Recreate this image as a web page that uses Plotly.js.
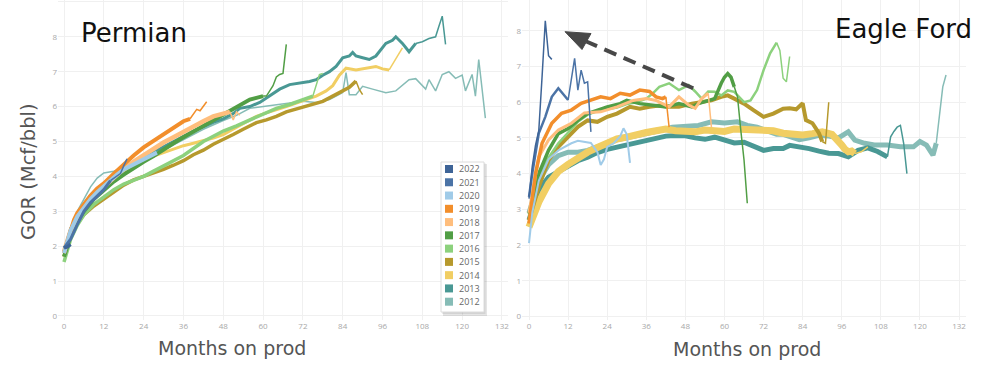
<!DOCTYPE html>
<html>
<head>
<meta charset="utf-8">
<script src="https://cdn.plot.ly/plotly-3.0.1.min.js"></script>
<style>html,body{margin:0;padding:0;background:#fff;}#chart{width:1000px;height:366px;}</style>
</head>
<body>
<div id="chart"></div>
<script>
// ---------- categories / labels ----------
const years = ['2022','2021','2020','2019','2018','2017','2016','2015','2014','2013','2012'];
const yearColors = ['#3E6497','#4B73A6','#A0CBE8','#F28E2B','#FFBE7D','#519E45','#8CD17D','#B6992D','#F1CE63','#499894','#86BCB6'];
const monthTicks = [0,12,24,36,48,60,72,84,96,108,120,132];
const panelTitles = ['Permian','Eagle Ford'];
const xTitle = 'Months on prod';
const yTitle = 'GOR (Mcf/bbl)';

// ---------- Permian: months on production / GOR ----------
const permX2022 = [0,1,2];
const permY2022 = [1.95,1.98,2.05];
const permX2021 = [0,2,4,6,8,10,12,14,16,17,18,19];
const permY2021 = [1.95,2.2,2.62,3.0,3.25,3.45,3.62,3.88,4.0,4.08,4.3,4.5];
const permX2020 = [0,2,4,6,8,10,12,14,16,18,20,22,24,26,28];
const permY2020 = [1.8,2.45,2.85,3.12,3.35,3.55,3.72,3.9,4.05,4.2,4.3,4.38,4.5,4.58,4.68];
const permX2019 = [0,1,2,3,4,6,8,10,12,15,18,21,24,27,30,33,36,38,39,40,41,42,43];
const permY2019 = [1.8,2.1,2.45,2.75,2.95,3.22,3.45,3.65,3.8,4.08,4.35,4.6,4.83,5.02,5.2,5.4,5.58,5.65,5.8,5.92,5.88,6.0,6.14];
const permX2018 = [0,2,4,6,9,12,15,18,21,24,27,30,33,36,39,42,45,48,50,51,52,53];
const permY2018 = [1.85,2.45,2.85,3.12,3.45,3.72,3.98,4.22,4.42,4.6,4.8,4.97,5.12,5.28,5.45,5.58,5.72,5.78,5.85,5.62,5.85,5.75];
const permX2017 = [0,2,4,6,9,12,15,18,21,24,27,30,33,36,39,42,45,48,51,54,56,58,60,61,62,63,64,65,66,67];
const permY2017 = [1.7,2.3,2.7,3.0,3.35,3.6,3.85,4.05,4.25,4.42,4.58,4.78,4.95,5.12,5.28,5.45,5.6,5.78,5.95,6.1,6.2,6.25,6.3,6.3,6.45,6.6,6.85,6.92,6.95,7.78];
const permX2016 = [0,2,4,6,9,12,15,18,21,24,27,30,33,36,39,42,45,48,52,56,60,64,68,72,75,76,77,78];
const permY2016 = [1.55,2.2,2.6,2.9,3.2,3.42,3.62,3.78,3.9,4.0,4.15,4.3,4.45,4.6,4.8,5.0,5.15,5.3,5.45,5.62,5.8,5.95,6.06,6.2,6.3,6.65,6.92,6.95];
const permX2015 = [0,2,4,6,9,12,15,18,21,24,27,30,33,36,39,42,45,48,51,54,58,61,64,67,71,74,78,81,84,86,88,89,90];
const permY2015 = [1.7,2.3,2.65,2.9,3.15,3.35,3.55,3.75,3.9,4.0,4.08,4.2,4.32,4.45,4.62,4.75,4.92,5.05,5.2,5.35,5.54,5.62,5.72,5.85,5.96,6.02,6.15,6.3,6.44,6.55,6.73,6.49,6.34];
const permX2014 = [0,3,6,9,12,15,18,21,24,27,30,33,36,39,42,45,48,51,54,58,61,64,67,70,73,76,79,81,83,85,88,91,94,96,98,100,101,102];
const permY2014 = [1.75,2.6,3.05,3.4,3.65,3.9,4.1,4.3,4.45,4.58,4.68,4.78,4.88,4.95,5.02,5.1,5.2,5.35,5.5,5.72,5.82,5.9,6.0,6.1,6.2,6.3,6.45,6.6,6.9,7.1,7.05,7.1,7.15,7.08,7.05,7.35,7.5,7.68];
const permX2013 = [0,2,4,6,8,10,12,14,16,18,21,24,27,30,33,36,39,42,45,48,51,53,56,59,62,65,68,71,74,76,78,80,82,84,86,87,88,90,92,94,95,97,99,100,102,104,106,108,110,112,113,114,115];
const permY2013 = [1.85,2.5,2.9,3.2,3.45,3.65,3.8,3.95,4.05,4.2,4.38,4.55,4.7,4.85,5.0,5.15,5.3,5.42,5.55,5.65,5.8,5.95,6.0,6.12,6.3,6.5,6.63,6.67,6.72,6.77,6.9,7.0,7.15,7.4,7.45,7.55,7.45,7.4,7.35,7.45,7.57,7.81,7.9,8.0,7.81,7.57,7.81,7.86,7.95,8.0,8.3,8.59,7.78];
const permX2012 = [0,2,4,6,8,10,12,15,18,21,24,30,36,42,48,52,56,60,64,68,72,76,80,82,84,85,86,88,90,93,97,100,102,104,106,109,110,112,114,116,118,120,121,123,124,125,127];
const permY2012 = [1.75,2.5,3.0,3.35,3.7,3.95,4.1,4.15,4.25,4.35,4.45,4.75,5.05,5.35,5.6,5.75,5.95,6.0,6.05,6.1,6.15,6.12,6.2,6.3,6.4,6.97,6.34,6.34,6.58,6.5,6.4,6.45,6.6,6.77,6.8,6.5,6.77,6.45,6.92,7.0,6.81,6.9,6.45,6.92,6.3,7.35,5.67];

// ---------- Eagle Ford: months on production / GOR ----------
const efX2022 = [0,1,2,3,4,5,6,7];
const efY2022 = [3.3,4.2,4.8,5.2,6.7,8.28,7.3,7.2];
const efX2021 = [0,1,3,5,7,9,12,14,15,16,17,18,19];
const efY2021 = [3.35,4.0,5.13,5.59,6.15,6.39,6.06,7.23,6.34,6.9,6.53,6.57,5.17];
const efX2020 = [0,1,3,6,9,11,13,15,17,19,21,22,23,24,26,28,29,30,31];
const efY2020 = [2.05,2.9,3.8,4.4,4.65,4.75,4.85,4.92,4.9,4.86,4.6,4.24,4.4,4.75,4.85,5.05,5.27,5.1,4.3];
const efX2019 = [0,2,4,7,10,13,16,19,22,25,28,31,34,37,39,41,42,43];
const efY2019 = [2.6,4.0,4.85,5.41,5.69,5.78,5.97,6.06,6.15,6.1,6.25,6.2,6.34,6.3,6.15,6.1,6.15,5.3];
const efX2018 = [0,3,6,9,13,17,22,27,32,36,39,41,43,46,49,51,53,55,56];
const efY2018 = [2.9,4.47,4.94,5.22,5.41,5.7,5.73,5.87,6.05,6.1,6.05,5.96,5.87,6.15,5.92,5.83,6.1,6.25,5.3];
const efX2017 = [0,3,6,9,12,15,18,21,24,28,30,34,38,42,46,50,52,55,57,59,60,61,62,63,64,65,66,67];
const efY2017 = [2.88,4.0,4.65,5.12,5.26,5.49,5.68,5.77,5.87,5.96,6.05,5.96,5.91,5.87,5.96,5.87,5.96,6.05,6.1,6.53,6.7,6.8,6.7,6.43,6.15,5.22,4.38,3.17];
const efX2016 = [0,2,4,6,9,12,15,18,21,24,27,30,33,36,38,40,43,46,49,51,53,55,57,59,61,63,66,68,70,72,74,76,77,78,79,80];
const efY2016 = [2.85,3.6,4.1,4.45,4.85,5.15,5.45,5.65,5.75,5.8,5.85,5.95,6.0,6.1,6.25,6.43,6.53,6.34,6.48,6.3,6.1,6.3,6.29,6.19,6.33,6.29,6.0,6.05,6.34,6.9,7.37,7.67,7.45,6.67,6.57,7.28];
const efX2015 = [0,3,6,9,12,15,18,21,24,27,31,34,37,40,43,46,50,53,56,59,61,63,66,69,72,75,78,80,82,84,85,87,89,90,91,92];
const efY2015 = [2.7,3.63,4.38,4.75,5.03,5.31,5.49,5.45,5.59,5.68,5.87,5.82,5.87,5.91,5.87,5.87,5.96,6.0,6.05,6.15,6.19,6.1,5.96,5.77,5.59,5.68,5.82,5.83,5.8,5.97,5.5,5.41,5.13,4.9,4.85,6.0];
const efX2014 = [0,3,6,9,12,15,18,21,24,27,30,33,36,39,42,45,48,51,54,57,60,63,66,69,72,75,78,81,84,87,90,93,95,96,97,98,99,100,102,104];
const efY2014 = [2.5,3.2,3.72,4.06,4.26,4.45,4.6,4.73,4.87,4.97,5.02,5.1,5.15,5.2,5.25,5.2,5.2,5.17,5.22,5.2,5.18,5.25,5.24,5.22,5.25,5.2,5.13,5.12,5.08,5.12,5.17,5.1,4.94,4.8,4.68,4.61,4.63,4.56,4.61,4.75];
const efX2013 = [0,3,6,9,12,15,18,21,24,27,30,33,36,39,42,45,48,51,54,57,60,63,66,69,72,75,78,80,83,86,89,92,95,98,101,104,107,109,110,111,112,113,114,115,116];
const efY2013 = [2.7,3.55,3.9,4.05,4.22,4.36,4.46,4.59,4.68,4.74,4.82,4.87,4.92,4.98,5.05,5.07,5.06,5.0,4.96,5.02,4.93,4.86,4.88,4.75,4.65,4.7,4.7,4.79,4.75,4.7,4.63,4.57,4.56,4.47,4.65,4.72,4.62,4.5,4.47,5.03,5.18,5.3,5.35,4.85,4.0];
const efX2012 = [0,3,6,9,12,15,18,21,24,27,30,33,36,40,44,48,52,56,60,64,67,70,73,76,78,80,83,86,89,92,95,98,100,103,106,110,114,118,120,122,124,125,126,127,128];
const efY2012 = [2.9,3.8,4.25,4.5,4.6,4.6,4.65,4.75,4.85,4.95,5.0,5.05,5.1,5.2,5.3,5.33,5.35,5.45,5.42,5.45,5.35,5.3,5.2,5.1,5.1,5.05,4.95,5.0,5.07,5.05,5.0,5.17,4.94,4.85,4.8,4.8,4.75,4.75,4.9,4.8,4.52,4.85,5.69,6.43,6.76];

// ---------- styles (line width, month where thin tail starts) ----------
const permStyle = {
  '2022':{w:3.5,tail:null}, '2021':{w:3,tail:14}, '2020':{w:4,tail:null}, '2019':{w:4,tail:38},
  '2018':{w:4.5,tail:50}, '2017':{w:4,tail:60}, '2016':{w:3.5,tail:75}, '2015':{w:3.5,tail:88},
  '2014':{w:3,tail:98}, '2013':{w:3,tail:106}, '2012':{w:1.5,tail:null}
};
const efStyle = {
  '2022':{w:1.5,tail:null}, '2021':{w:2.5,tail:12}, '2020':{w:2,tail:null}, '2019':{w:3.5,tail:42},
  '2018':{w:3,tail:55}, '2017':{w:3.5,tail:63}, '2016':{w:2.5,tail:76}, '2015':{w:4,tail:90},
  '2014':{w:7,tail:100}, '2013':{w:5,tail:110}, '2012':{w:5,tail:125}
};
const permData = {
  '2022':[permX2022,permY2022],'2021':[permX2021,permY2021],'2020':[permX2020,permY2020],
  '2019':[permX2019,permY2019],'2018':[permX2018,permY2018],'2017':[permX2017,permY2017],
  '2016':[permX2016,permY2016],'2015':[permX2015,permY2015],'2014':[permX2014,permY2014],
  '2013':[permX2013,permY2013],'2012':[permX2012,permY2012]
};
const efData = {
  '2022':[efX2022,efY2022],'2021':[efX2021,efY2021],'2020':[efX2020,efY2020],
  '2019':[efX2019,efY2019],'2018':[efX2018,efY2018],'2017':[efX2017,efY2017],
  '2016':[efX2016,efY2016],'2015':[efX2015,efY2015],'2014':[efX2014,efY2014],
  '2013':[efX2013,efY2013],'2012':[efX2012,efY2012]
};

const traces = [];
function addSeries(data, style, xa, ya) {
  // oldest first so the newest vintages sit on top
  for (let i = years.length - 1; i >= 0; i--) {
    const yr = years[i], col = yearColors[i];
    const [xs, ys] = data[yr];
    const st = style[yr];
    let mainX = xs, mainY = ys, tailX = [], tailY = [];
    if (st.tail !== null) {
      mainX = []; mainY = [];
      xs.forEach((x, k) => {
        if (x <= st.tail) { mainX.push(x); mainY.push(ys[k]); }
        if (x >= st.tail) { tailX.push(x); tailY.push(ys[k]); }
      });
    }
    if (tailX.length) traces.push({x:tailX, y:tailY, xaxis:xa, yaxis:ya, type:'scatter', mode:'lines',
      name:yr, showlegend:false, hoverinfo:'skip', line:{color:col, width:1.5, shape:'linear'}});
    traces.push({x:mainX, y:mainY, xaxis:xa, yaxis:ya, type:'scatter', mode:'lines',
      name:yr, showlegend:false, line:{color:col, width:st.w, shape:'linear'}});
  }
}
addSeries(permData, permStyle, 'x', 'y');
addSeries(efData, efStyle, 'x2', 'y2');

// pixel -> paper helpers (figure is 1000 x 366 with zero margins)
const W = 1000, H = 366;
const px = v => v / W;
const py = v => 1 - v / H;

const tickFont = {family:'Open Sans, sans-serif', size:8, color:'#a8a8a8'};
const grid = '#f0f0f0';
const axBase = {showgrid:true, gridcolor:grid, gridwidth:1, zeroline:false, showline:false, ticks:'', tickfont:tickFont, fixedrange:true};

const shapes = [];
const annotations = [];

// custom legend (square swatches) drawn from years / yearColors
shapes.push({type:'rect', xref:'paper', yref:'paper', x0:px(443), x1:px(487), y0:py(316), y1:py(164), fillcolor:'rgba(0,0,0,0.10)', line:{width:0}, layer:'above'});
shapes.push({type:'rect', xref:'paper', yref:'paper', x0:px(442), x1:px(485.5), y0:py(314), y1:py(163), fillcolor:'rgba(0,0,0,0.08)', line:{width:0}, layer:'above'});
shapes.push({type:'rect', xref:'paper', yref:'paper', x0:px(441), x1:px(484), y0:py(312), y1:py(162), fillcolor:'#ffffff', line:{color:'#dcdcdc', width:1}, layer:'above'});
years.forEach((yr, i) => {
  const yc = 169 + i * 13.27;
  shapes.push({type:'rect', xref:'paper', yref:'paper', x0:px(445), x1:px(453), y0:py(yc + 4), y1:py(yc - 4), fillcolor:yearColors[i], line:{width:0}, layer:'above'});
  annotations.push({xref:'paper', yref:'paper', x:px(456.5), y:py(yc), xanchor:'left', yanchor:'middle', text:yr, showarrow:false,
    font:{family:'Open Sans, sans-serif', size:9, color:'#666'}});
});

// dashed arrow in the Eagle Ford panel
shapes.push({type:'line', xref:'x2', yref:'y2', x0:50.4, y0:6.39, x1:17.6, y1:7.70, line:{color:'#484848', width:4, dash:'13px,8px'}});
shapes.push({type:'path', xref:'x2', yref:'y2', path:'M 11.05 7.975 L 19.03 7.924 L 16.27 7.476 Z', fillcolor:'#484848', line:{color:'#484848', width:1}});

// panel titles
annotations.push({xref:'paper', yref:'paper', x:px(134), y:py(33), xanchor:'center', yanchor:'middle', text:panelTitles[0], showarrow:false,
  font:{family:'DejaVu Sans, sans-serif', size:26, color:'#111'}});
annotations.push({xref:'paper', yref:'paper', x:px(903), y:py(29), xanchor:'center', yanchor:'middle', text:panelTitles[1], showarrow:false,
  font:{family:'DejaVu Sans, sans-serif', size:26, color:'#111'}});
// axis titles
annotations.push({xref:'paper', yref:'paper', x:px(28), y:py(172), xanchor:'center', yanchor:'middle', text:yTitle, textangle:-90, showarrow:false,
  font:{family:'DejaVu Sans, sans-serif', size:19.5, color:'#555'}});
annotations.push({xref:'paper', yref:'paper', x:px(232), y:py(348), xanchor:'center', yanchor:'middle', text:xTitle, showarrow:false,
  font:{family:'DejaVu Sans, sans-serif', size:19, color:'#555'}});
annotations.push({xref:'paper', yref:'paper', x:px(747), y:py(349), xanchor:'center', yanchor:'middle', text:xTitle, showarrow:false,
  font:{family:'DejaVu Sans, sans-serif', size:19, color:'#555'}});

const layout = {
  width:W, height:H,
  margin:{l:0, r:0, t:0, b:0, pad:0},
  paper_bgcolor:'#ffffff', plot_bgcolor:'#ffffff',
  showlegend:false,
  xaxis: Object.assign({}, axBase, {domain:[px(58), px(508)], range:[-1.81, 133.82], tickvals:monthTicks, anchor:'y'}),
  yaxis: Object.assign({}, axBase, {domain:[py(320), 1], range:[-0.115, 9.054], tick0:0, dtick:1, anchor:'x'}),
  xaxis2: Object.assign({}, axBase, {domain:[px(522), px(966)], range:[-2.15, 134.13], tickvals:monthTicks, anchor:'y2'}),
  yaxis2: Object.assign({}, axBase, {domain:[py(320), 1], range:[-0.101, 8.863], tick0:0, dtick:1, anchor:'x2'}),
  shapes:shapes,
  annotations:annotations
};

Plotly.newPlot('chart', traces, layout, {staticPlot:true, displayModeBar:false});
</script>
</body>
</html>
